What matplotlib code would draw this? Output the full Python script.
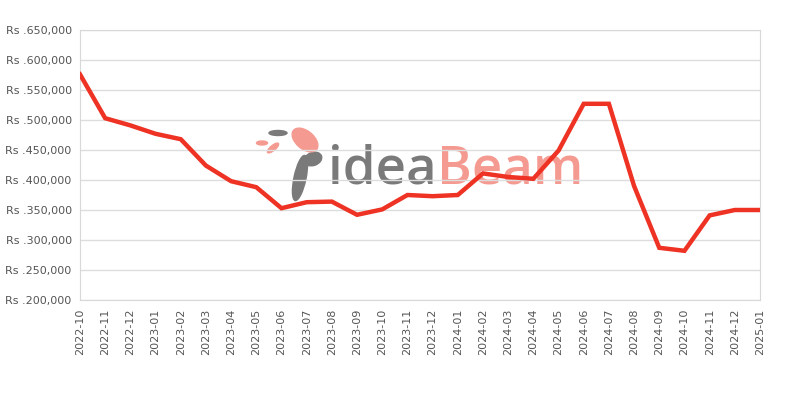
import matplotlib.pyplot as plt
from matplotlib.patches import Ellipse
from matplotlib.transforms import IdentityTransform

months = ['2022-10', '2022-11', '2022-12', '2023-01', '2023-02', '2023-03', '2023-04',
          '2023-05', '2023-06', '2023-07', '2023-08', '2023-09', '2023-10', '2023-11',
          '2023-12', '2024-01', '2024-02', '2024-03', '2024-04', '2024-05', '2024-06',
          '2024-07', '2024-08', '2024-09', '2024-10', '2024-11', '2024-12', '2025-01']
prices = [576000, 503000, 491000, 477000, 468000, 424000, 398000,
          388000, 353000, 363000, 364000, 342000, 351000, 375000,
          373000, 375000, 411000, 405000, 402000, 449000, 527000,
          527000, 390000, 287000, 282000, 341000, 350000, 350000]
yticks = [200000, 250000, 300000, 350000, 400000, 450000, 500000, 550000, 600000, 650000]

fig = plt.figure(figsize=(8, 4), dpi=100)
ax = fig.add_axes([0.1, 0.25, 0.85, 0.675])

# watermark logo (rough)
ax.text(0.525, 0.433, 'idea', transform=ax.transAxes, fontsize=38, color='#7a7a7a',
        ha='right', va='baseline', family='Open Sans', weight='semibold', zorder=0)
ax.text(0.525, 0.433, 'Beam', transform=ax.transAxes, fontsize=38, color='#f59a90',
        ha='left', va='baseline', family='Open Sans', weight='semibold', zorder=0)
px = IdentityTransform()
logo = [((300, 222), 12, 46, -12, '#7a7a7a'),
        ((313, 241), 18, 13, 20, '#7a7a7a'),
        ((305, 260), 30, 18, -40, '#f59a90'),
        ((278, 267), 18, 5, 0, '#7a7a7a'),
        ((262, 257), 11, 4, 0, '#f59a90'),
        ((273, 252), 14, 5, 40, '#f59a90')]
for (cx, cy), w, h, ang, col in logo:
    ax.add_patch(Ellipse((cx, cy), w, h, angle=ang, transform=px, color=col, zorder=0))

x = list(range(len(months)))
ax.plot(x, prices, color='#ee3224', linewidth=3.2, solid_joinstyle='miter', zorder=3)

ax.set_xlim(0, len(months) - 1)
ax.set_ylim(200000, 650000)
ax.set_xticks(x)
ax.set_xticklabels(months, rotation=90, fontsize=8, color='#555555')
ax.set_yticks(yticks)
ax.set_yticklabels(['Rs .{:,}'.format(v) for v in yticks], fontsize=8, color='#555555')
ax.tick_params(length=0, pad=6)
ax.grid(axis='y', color='#dddddd', linewidth=1)
ax.set_axisbelow(True)
for s in ax.spines.values():
    s.set_color('#d8d8d8')

plt.savefig('out.png')
